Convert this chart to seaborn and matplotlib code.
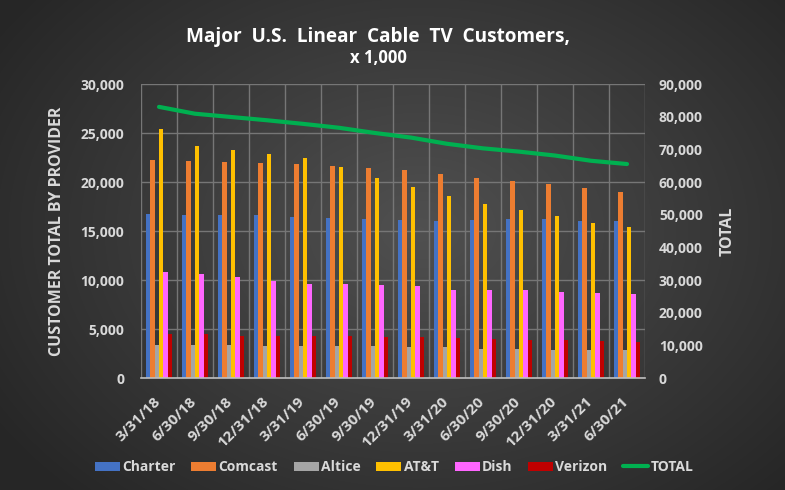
import numpy as np
import pandas as pd
import matplotlib
matplotlib.use("Agg")
import matplotlib.pyplot as plt
import matplotlib.transforms as mtrans
from matplotlib.patches import Patch
from matplotlib.lines import Line2D
import seaborn as sns

quarters = ["3/31/18", "6/30/18", "9/30/18", "12/31/18", "3/31/19", "6/30/19", "9/30/19",
            "12/31/19", "3/31/20", "6/30/20", "9/30/20", "12/31/20", "3/31/21", "6/30/21"]
charter = [16740, 16600, 16600, 16600, 16400, 16300, 16200, 16100, 16000, 16100, 16200, 16200, 16000, 16000]
comcast = [22260, 22150, 22050, 21950, 21850, 21650, 21450, 21250, 20850, 20450, 20100, 19800, 19400, 19000]
altice = [3340, 3340, 3340, 3240, 3240, 3240, 3240, 3140, 3140, 3000, 3000, 2900, 2850, 2850]
att = [25430, 23700, 23300, 22900, 22400, 21550, 20400, 19500, 18600, 17750, 17150, 16550, 15800, 15400]
dish = [10800, 10600, 10300, 9900, 9600, 9600, 9500, 9400, 9000, 9000, 9000, 8800, 8700, 8600]
verizon = [4470, 4470, 4330, 4330, 4260, 4260, 4160, 4160, 4060, 3960, 3860, 3860, 3760, 3660]
total = [83000, 80900, 79900, 78900, 77800, 76600, 75000, 73600, 71700, 70300, 69300, 68100, 66500, 65500]

providers = ["Charter", "Comcast", "Altice", "AT&T", "Dish", "Verizon"]
colors = ["#4472C4", "#ED7D31", "#A5A5A5", "#FFC000", "#FF66FF", "#C00000"]
green = "#00B050"

series = {"Charter": charter, "Comcast": comcast, "Altice": altice,
          "AT&T": att, "Dish": dish, "Verizon": verizon}
df = pd.DataFrame([{"Quarter": q, "Provider": p, "Value": series[p][i]}
                   for p in providers for i, q in enumerate(quarters)])
df_total = pd.DataFrame({"Quarter": quarters, "Total": total})

sns.set_theme(style="dark")
plt.rcParams["font.family"] = ["Open Sans", "DejaVu Sans"]

fig = plt.figure(figsize=(7.85, 4.90), dpi=100)

# radial gradient background
bg = fig.add_axes([0, 0, 1, 1], zorder=-10)
yy, xx = np.mgrid[0:490, 0:785]
r = np.sqrt(((xx - 420) / 520.0) ** 2 + ((yy - 230) / 380.0) ** 2)
shade = np.clip(0.315 - 0.17 * r, 0.15, 0.315)
bg.imshow(np.dstack([shade, shade, shade]), aspect="auto", extent=[0, 1, 0, 1])
bg.set_axis_off()

ax = fig.add_axes([141 / 785, 1 - 378 / 490, 504 / 785, 294 / 490])
ax.set_facecolor("none")
ax.set_axisbelow(True)
sns.barplot(data=df, x="Quarter", y="Value", hue="Provider", hue_order=providers,
            palette=colors, width=0.72, saturation=1, ax=ax, legend=False, zorder=3)
for p in ax.patches:
    p.set_edgecolor("none")

ax.set_ylim(0, 30000)
ax.set_xlim(-0.5, len(quarters) - 0.5)
ax.set_yticks(np.arange(0, 30001, 5000))
ax.set_yticklabels([f"{v:,}" for v in range(0, 30001, 5000)])
ax.set_xlabel("")
ax.set_ylabel("CUSTOMER TOTAL BY PROVIDER", color="#d9d9d9", fontsize=11.5,
              fontweight="bold", labelpad=11)
ax.set_xticks(range(len(quarters)))
ax.set_xticklabels(quarters, rotation=45, ha="right", va="top", rotation_mode="default")
ax.tick_params(axis="x", colors="#d9d9d9", labelsize=11, length=0, pad=12)
ax.tick_params(axis="y", colors="#d9d9d9", labelsize=10, length=0, pad=12)
shift = mtrans.ScaledTranslation(4 / 100, 0, fig.dpi_scale_trans)
for lab in ax.get_xticklabels():
    lab.set_transform(lab.get_transform() + shift)
for lab in ax.get_xticklabels() + ax.get_yticklabels():
    lab.set_fontweight("bold")
    lab.set_color("#d9d9d9")
# gridlines
ax.set_xticks(np.arange(-0.5, len(quarters), 1.0), minor=True)
ax.tick_params(axis="x", which="minor", length=0)
ax.yaxis.grid(True, which="major", color="#767676", linewidth=1.0)
ax.xaxis.grid(True, which="minor", color="#767676", linewidth=1.0)
ax.xaxis.grid(False, which="major")
for s in ["top", "right", "left"]:
    ax.spines[s].set_visible(False)
ax.spines["bottom"].set_color("#bfbfbf")
ax.spines["bottom"].set_linewidth(1.2)
ax.spines["bottom"].set_zorder(4)

ax2 = ax.twinx()
ax2.set_facecolor("none")
sns.lineplot(x=np.arange(len(quarters)), y=df_total["Total"], color=green, linewidth=3,
             ax=ax2, zorder=5)
ax2.set_ylim(0, 90000)
ax2.set_xlim(-0.5, len(quarters) - 0.5)
ax2.set_yticks(np.arange(0, 90001, 10000))
ax2.set_yticklabels([f"{v:,}" for v in range(0, 90001, 10000)])
ax2.tick_params(axis="y", colors="#d9d9d9", labelsize=10, length=0, pad=10)
for lab in ax2.get_yticklabels():
    lab.set_fontweight("bold")
ax2.set_ylabel("TOTAL", color="#d9d9d9", fontsize=11.5, fontweight="bold", labelpad=12)
ax2.grid(False)
for s in ax2.spines.values():
    s.set_visible(False)

fig.text(378 / 785, 1 - 37 / 490, "Major  U.S.  Linear  Cable  TV  Customers,", ha="center",
         va="center", color="white", fontsize=13.7, fontweight="bold")
fig.text(378 / 785, 1 - 58 / 490, "x 1,000", ha="center", va="center", color="white",
         fontsize=12, fontweight="bold")

handles = [Patch(facecolor=c, edgecolor="none", label=p) for p, c in zip(providers, colors)]
handles.append(Line2D([0], [0], color=green, linewidth=3, label="TOTAL"))
leg = fig.legend(handles=handles, loc="center", bbox_to_anchor=(394 / 785, 1 - 467 / 490),
                 ncol=7, frameon=False, fontsize=10, handlelength=1.8, handleheight=0.6,
                 handletextpad=0.15, columnspacing=1.15)
for t in leg.get_texts():
    t.set_color("#d9d9d9")
    t.set_fontweight("bold")

fig.savefig("out.png", dpi=100)
